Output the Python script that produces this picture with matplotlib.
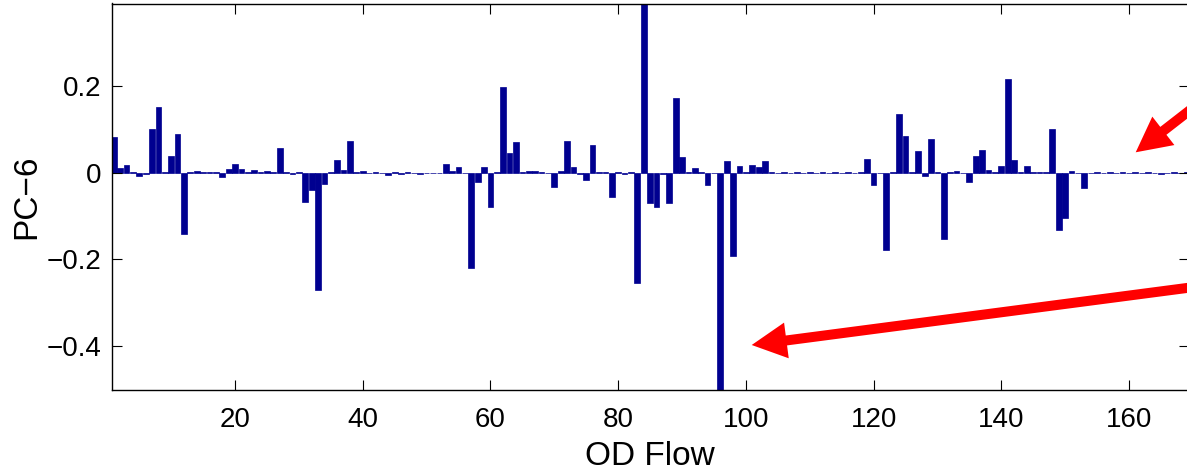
import matplotlib
matplotlib.use("Agg")
import matplotlib.pyplot as plt
from matplotlib.patches import FancyArrow
import numpy as np

plt.rcParams['font.family'] = ['Liberation Sans', 'DejaVu Sans']

# PC-6 loading for each OD flow (1..169)
od_flow = list(range(1, 170))
pc6 = [
    0.083, 0.010, 0.019, 0.002, -0.008, -0.002, 0.102, 0.152, 0.002, 0.038,
    0.090, -0.142, 0.002, 0.003, 0.001, 0.001, 0.001, -0.009, 0.009, 0.021,
    0.008, 0.001, 0.006, 0.002, 0.004, 0.001, 0.056, 0.001, -0.003, 0.002,
    -0.068, -0.040, -0.271, -0.025, 0.001, 0.029, 0.007, 0.073, 0.001, 0.003,
    0.000, 0.002, 0.000, -0.006, 0.001, -0.004, 0.001, 0.000, -0.002, 0.000,
    0.000, 0.000, 0.021, 0.003, 0.013, 0.000, -0.220, -0.022, 0.014, -0.079,
    0.001, 0.198, 0.046, 0.071, 0.001, 0.005, 0.005, 0.002, -0.001, -0.033,
    0.005, 0.074, 0.014, -0.002, -0.016, 0.063, 0.002, 0.001, -0.056, 0.002,
    -0.003, 0.002, -0.255, 0.420, -0.071, -0.079, -0.004, -0.070, 0.172, 0.036,
    0.001, 0.012, 0.001, -0.028, 0.000, -0.520, 0.028, -0.193, 0.015, 0.001,
    0.018, 0.014, 0.026, 0.001, 0.000, 0.001, 0.000, 0.001, 0.000, 0.001,
    0.000, 0.001, 0.000, 0.001, 0.000, 0.001, 0.000, 0.001, 0.031, -0.029,
    0.000, -0.179, 0.002, 0.136, 0.085, 0.001, 0.051, -0.008, 0.077, 0.001,
    -0.152, 0.002, 0.003, 0.000, -0.022, 0.039, 0.052, 0.007, 0.001, 0.015,
    0.216, 0.030, 0.001, 0.016, 0.001, 0.001, 0.001, 0.101, -0.132, -0.105,
    0.004, 0.000, -0.035, 0.000, 0.001, 0.000, 0.001, 0.000, 0.001, 0.000,
    0.001, 0.000, 0.001, 0.000, -0.004, 0.000, 0.001, 0.000, 0.001,
]
xticks = [20, 40, 60, 80, 100, 120, 140, 160]
yticks = [-0.4, -0.2, 0, 0.2]
ytick_labels = ['\u22120.4', '\u22120.2', '0', '0.2']

W, H = 1187, 474
fig = plt.figure(figsize=(W / 100, H / 100), dpi=100)
left_px, right_px, top_px, bottom_px = 111.5, 1189, 3.5, 390
ax = fig.add_axes([left_px / W, (H - bottom_px) / H,
                   (right_px - left_px) / W, (bottom_px - top_px) / H])

bar_color = '#000090'
ax.bar(od_flow, pc6, width=0.9, color=bar_color, edgecolor=bar_color, linewidth=0.5)

ax.set_xlim(0.65, 169.4)
ax.set_ylim(-0.502, 0.391)
ax.set_xticks(xticks)
ax.set_yticks(yticks)
ax.set_yticklabels(ytick_labels)
ax.tick_params(direction='in', top=True, right=True, length=7, width=0.8,
               labelsize=20)
ax.tick_params(axis='x', pad=12)
ax.tick_params(axis='y', pad=7)
for s in ax.spines.values():
    s.set_linewidth(1.0)
ax.set_xlabel('OD Flow', fontsize=24, labelpad=6)
ax.set_ylabel('PC\u22126', fontsize=24, labelpad=3)

# Overlay for annotation arrows in pixel coordinates
ov = fig.add_axes([0, 0, 1, 1])
ov.set_xlim(0, W)
ov.set_ylim(H, 0)
ov.axis('off')
ov.patch.set_alpha(0)

def arrow(tail, tip):
    dx, dy = tip[0] - tail[0], tip[1] - tail[1]
    ov.add_patch(FancyArrow(tail[0], tail[1], dx, dy, width=10, head_width=36,
                            head_length=35, length_includes_head=True,
                            color='#ff0000', linewidth=0, clip_on=False))

arrow((1205, 98.5), (1135.7, 152.3))
arrow((1205, 285.6), (751.7, 345.0))

fig.savefig('out.png', dpi=100)
